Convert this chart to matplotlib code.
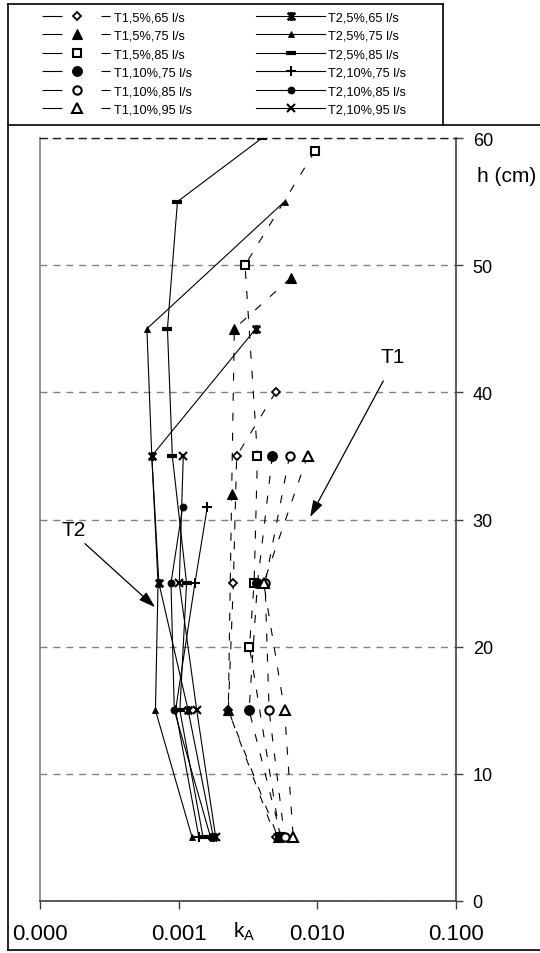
import matplotlib
matplotlib.use("Agg")
import matplotlib.pyplot as plt
from matplotlib.lines import Line2D
from matplotlib.path import Path
from matplotlib.ticker import FixedLocator, FuncFormatter

plt.rcParams['font.family'] = ['Liberation Sans', 'DejaVu Sans']
plt.rcParams['mathtext.fontset'] = 'custom'
plt.rcParams['mathtext.rm'] = 'Liberation Sans'
plt.rcParams['mathtext.it'] = 'Liberation Sans:italic'
plt.rcParams['lines.scale_dashes'] = False

# ---------------- data ----------------
labels_T1 = ["T1,5%,65 l/s", "T1,5%,75 l/s", "T1,5%,85 l/s",
             "T1,10%,75 l/s", "T1,10%,85 l/s", "T1,10%,95 l/s"]
labels_T2 = ["T2,5%,65 l/s", "T2,5%,75 l/s", "T2,5%,85 l/s",
             "T2,10%,75 l/s", "T2,10%,85 l/s", "T2,10%,95 l/s"]

h_T1_5_65 = [40, 35, 25, 15, 5]
k_T1_5_65 = [0.0050, 0.00262, 0.00248, 0.00228, 0.0050]
h_T1_5_75 = [49, 45, 32, 15, 5]
k_T1_5_75 = [0.00644, 0.00252, 0.00241, 0.00228, 0.0052]
h_T1_5_85 = [59, 50, 35, 25, 20, 5]
k_T1_5_85 = [0.00964, 0.00301, 0.0037, 0.0035, 0.00324, 0.0054]
h_T1_10_75 = [35, 25, 15, 5]
k_T1_10_75 = [0.00474, 0.0037, 0.00322, 0.0055]
h_T1_10_85 = [35, 25, 15, 5]
k_T1_10_85 = [0.0063, 0.0042, 0.00449, 0.0058]
h_T1_10_95 = [35, 25, 15, 5]
k_T1_10_95 = [0.0085, 0.0041, 0.0058, 0.0067]

h_T2_5_65 = [45, 35, 25, 15, 5]
k_T2_5_65 = [0.0036, 0.00064, 0.00072, 0.00117, 0.00178]
h_T2_5_75 = [55, 45, 35, 25, 15, 5]
k_T2_5_75 = [0.0058, 0.00059, 0.00064, 0.00071, 0.00068, 0.00125]
h_T2_5_85 = [60, 55, 45, 35, 25, 15, 5]
k_T2_5_85 = [0.0040, 0.00098, 0.00083, 0.00090, 0.00114, 0.00102, 0.00150]
h_T2_10_75 = [31, 25, 15, 5]
k_T2_10_75 = [0.00161, 0.00131, 0.00095, 0.00140]
h_T2_10_85 = [31, 25, 15, 5]
k_T2_10_85 = [0.00107, 0.00088, 0.00093, 0.00170]
h_T2_10_95 = [35, 25, 15, 5]
k_T2_10_95 = [0.00108, 0.00101, 0.00135, 0.00185]

x_ticks = [0.0001, 0.001, 0.01, 0.1]
y_ticks = [0, 10, 20, 30, 40, 50, 60]

T1_data = [(k_T1_5_65, h_T1_5_65), (k_T1_5_75, h_T1_5_75), (k_T1_5_85, h_T1_5_85),
           (k_T1_10_75, h_T1_10_75), (k_T1_10_85, h_T1_10_85), (k_T1_10_95, h_T1_10_95)]
T2_data = [(k_T2_5_65, h_T2_5_65), (k_T2_5_75, h_T2_5_75), (k_T2_5_85, h_T2_5_85),
           (k_T2_10_75, h_T2_10_75), (k_T2_10_85, h_T2_10_85), (k_T2_10_95, h_T2_10_95)]

# ---------------- styles ----------------
star_path = Path([(-1, -1), (1, 1), (-1, 1), (1, -1), (0, -1.2), (0, 1.2)],
                 [Path.MOVETO, Path.LINETO, Path.MOVETO, Path.LINETO, Path.MOVETO, Path.LINETO])

T1_styles = [
    dict(marker='D', ms=4.0, mfc='white', mec='black', mew=1.3),
    dict(marker='^', ms=7.0, mfc='black', mec='black', mew=0.8),
    dict(marker='s', ms=6.0, mfc='white', mec='black', mew=1.5),
    dict(marker='o', ms=7.0, mfc='black', mec='black', mew=0.8),
    dict(marker='o', ms=6.0, mfc='white', mec='black', mew=1.5),
    dict(marker='^', ms=7.5, mfc='white', mec='black', mew=1.5),
]
T2_styles = [
    dict(marker=star_path, ms=6.5, mfc='none', mec='black', mew=2.0),
    dict(marker='^', ms=4.5, mfc='black', mec='black', mew=0.6),
    dict(marker='_', ms=7.0, mfc='black', mec='black', mew=3.0),
    dict(marker='+', ms=7.0, mfc='black', mec='black', mew=1.5),
    dict(marker='o', ms=5.0, mfc='black', mec='black', mew=0.6),
    dict(marker='x', ms=6.0, mfc='black', mec='black', mew=1.5),
]
T1_dash = (0, (5.8, 8.6))
LW = 0.8

W, H = 540, 954
fig = plt.figure(figsize=(W / 100, H / 100), dpi=100)
ax = fig.add_axes([40 / W, 1 - 902 / H, 416 / W, 763 / H])

for (k, h), st in zip(T1_data, T1_styles):
    ax.plot(k, h, color='black', lw=LW, ls=T1_dash, zorder=3, **st)
for (k, h), st in zip(T2_data, T2_styles):
    ax.plot(k, h, color='black', lw=LW, ls='-', zorder=3, **st)

ax.set_xscale('log')
ax.set_xlim(x_ticks[0], x_ticks[-1])
ax.set_ylim(y_ticks[0], y_ticks[-1])
ax.xaxis.set_major_locator(FixedLocator(x_ticks))
ax.xaxis.set_minor_locator(FixedLocator([]))
ax.xaxis.set_major_formatter(FuncFormatter(lambda v, p: f"{v:.3f}"))
ax.yaxis.set_major_locator(FixedLocator(y_ticks))
ax.yaxis.tick_right()
ax.tick_params(axis='x', direction='out', length=6, width=1, color='#404040',
               labelsize=16, pad=10)
ax.tick_params(axis='y', direction='out', length=5, width=1, color='#404040',
               labelsize=13, pad=7, left=False, labelleft=False)
ax.grid(axis='y', color='#808080', lw=1.0, ls=(0, (5, 4.3)), zorder=1)
ax.grid(axis='x', visible=False)

ax.spines['left'].set_color('#808080')
ax.spines['left'].set_linewidth(1.2)
ax.spines['bottom'].set_color('#404040')
ax.spines['bottom'].set_linewidth(1.2)
ax.spines['right'].set_color('#404040')
ax.spines['right'].set_linewidth(1.2)
ax.spines['top'].set_color('#202020')
ax.spines['top'].set_linestyle((0, (5, 4.3)))
ax.spines['top'].set_linewidth(1.0)

# annotations
ax.annotate('', xy=(0.00887, 30.2), xytext=(0.0299, 40.9),
            arrowprops=dict(arrowstyle='-|>,head_length=1.0,head_width=0.32',
                            lw=0.9, color='black', shrinkA=0, shrinkB=0), zorder=4)
ax.annotate('', xy=(0.000676, 23.1), xytext=(0.000211, 28.1),
            arrowprops=dict(arrowstyle='-|>,head_length=1.0,head_width=0.32',
                            lw=0.9, color='black', shrinkA=0, shrinkB=0), zorder=4)
ax.text(0.0347, 42.8, 'T1', fontsize=15, ha='center', va='center')
ax.text(0.000176, 29.2, 'T2', fontsize=15, ha='center', va='center')

fig.text(477 / W, 1 - 177 / H, 'h (cm)', fontsize=15, ha='left', va='center')
fig.text(233 / W, 1 - 938 / H, r'k$_{\mathrm{A}}$', fontsize=15, ha='left', va='baseline')

# legend
leg_handles = []
for st in T1_styles:
    leg_handles.append(Line2D([], [], color='black', lw=LW,
                              ls=(0, (14.4, 9.4, 2.9, 15.8, 6.5)), **st))
for st in T2_styles:
    leg_handles.append(Line2D([], [], color='black', lw=LW, ls='-', **st))
leg = fig.legend(leg_handles, labels_T1 + labels_T2, ncol=2, loc='upper left',
                 bbox_to_anchor=(42 / W, 1 - 12.5 / H), bbox_transform=fig.transFigure,
                 frameon=False, fontsize=9.2, handlelength=5.4, handletextpad=0.25,
                 columnspacing=5.0, labelspacing=0.5, borderpad=0, borderaxespad=0,
                 numpoints=1)

# frames
def fline(x0, y0, x1, y1):
    fig.add_artist(Line2D([x0 / W, x1 / W], [1 - y0 / H, 1 - y1 / H],
                          transform=fig.transFigure, color='black', lw=1.2))

fline(8, 5, 443, 5)
fline(443, 5, 443, 126)
fline(8, 5, 8, 951)
fline(8, 126, 545, 126)
fline(8, 951, 545, 951)

fig.savefig('out.png', dpi=100)
